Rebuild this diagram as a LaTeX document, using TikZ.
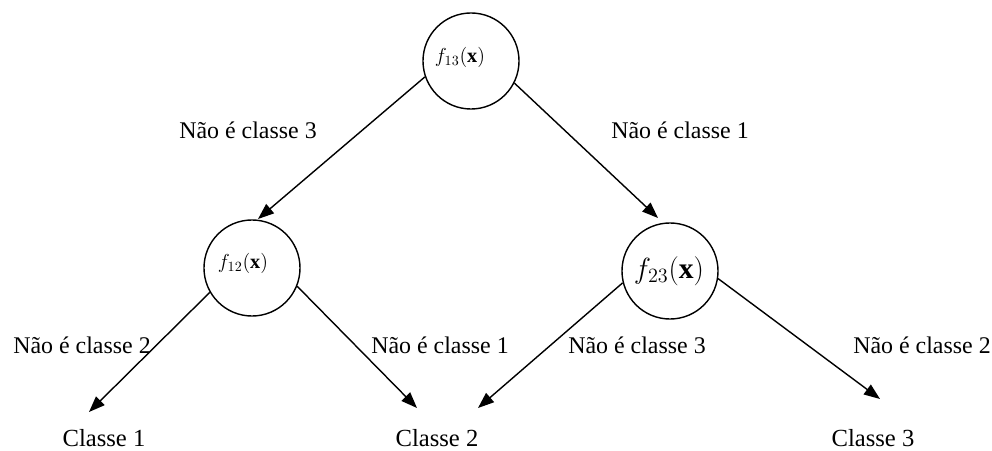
\documentclass[tikz,border=0pt]{standalone}
\usepackage{amsmath}
\usepackage{fontspec}
\setmainfont{Liberation Serif}
\usetikzlibrary{arrows.meta, positioning}

\begin{document}
\begin{tikzpicture}[x=0.025cm, y=-0.025cm,
  fn/.style={circle, draw, line width=1pt, minimum size=2.4cm, inner sep=0pt},
  fnlbl/.style={font=\fontsize{14.4}{16}\selectfont, inner sep=0pt},
  bigfnlbl/.style={font=\fontsize{21}{24}\selectfont, inner sep=0pt},
  edgelbl/.style={font=\fontsize{17}{20}\selectfont, inner sep=0pt},
  cls/.style={font=\fontsize{17.5}{20}\selectfont, inner sep=0pt},
  arr/.style={line width=1pt, -{Triangle[length=0.4cm, width=0.3cm]}}
]
\useasboundingbox (0,0) rectangle (992,451);

% decision nodes
\node[fn] (f13) at (471,61) {};
\node[fn] (f12) at (252,268) {};
\node[fn] (f23) at (670,271) {};
\node[fnlbl] (f13t) at (460,57) {$f_{13}(\mathbf{x})$};
\node[fnlbl] (f12t) at (243,263) {$f_{12}(\mathbf{x})$};
\node[bigfnlbl] (f23t) at (669,271) {$f_{23}(\mathbf{x})$};

% classes
\node[cls] (c1) at (104,438) {Classe 1};
\node[cls] (c2) at (437,438) {Classe 2};
\node[cls] (c3) at (873,438) {Classe 3};

% arrow ends
\coordinate (t12) at (258,219);
\coordinate (t23) at (658,218);
\coordinate (t1) at (89,412);
\coordinate (t2a) at (417,408);
\coordinate (t2b) at (478,408);
\coordinate (t3) at (880,399);

\draw[arr] (f13.199) -- (t12);
\draw[arr] (f13.333) -- (t23);
\draw[arr] (f12.210) -- (t1);
\draw[arr] (f12.338) -- (t2a);
\draw[arr] (f23.194) -- (t2b);
\draw[arr] (f23.351) -- (t3);

% edge labels
\node[edgelbl] (n3a) at (248,130) {Não é classe 3};
\node[edgelbl] (n1a) at (680,130) {Não é classe 1};
\node[edgelbl] (n2a) at (82,345) {Não é classe 2};
\node[edgelbl] (n1b) at (440,345) {Não é classe 1};
\node[edgelbl] (n3b) at (637,345) {Não é classe 3};
\node[edgelbl] (n2b) at (922,345) {Não é classe 2};
\end{tikzpicture}
\end{document}
